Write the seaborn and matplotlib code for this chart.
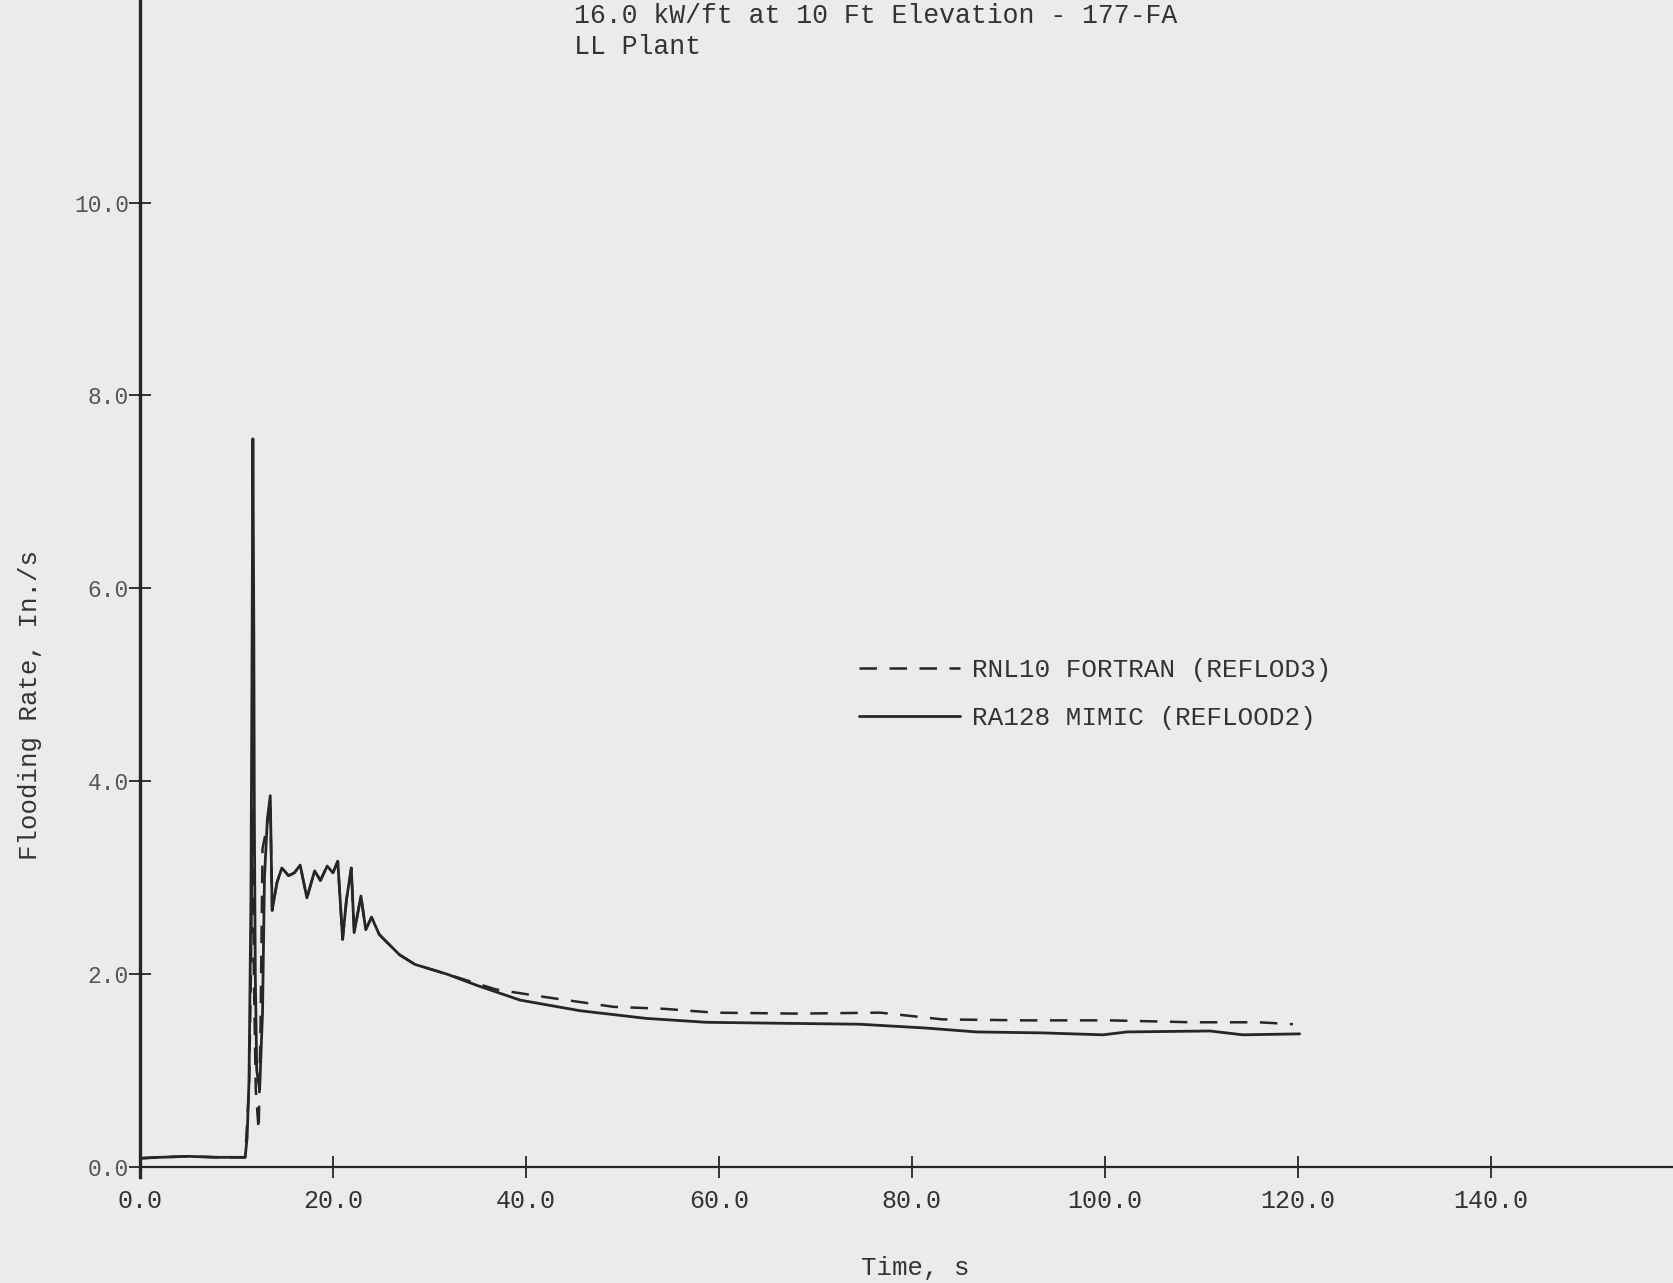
import matplotlib
matplotlib.use("Agg")
import matplotlib.pyplot as plt
import seaborn as sns

# ---- data ----
time_solid = [0.0, 2.0, 5.0, 8.0, 10.9, 11.1, 11.3, 11.5, 11.6, 11.7, 11.8, 11.85, 11.95,
              12.1, 12.4, 12.7, 12.9, 13.2, 13.5, 13.7, 14.2, 14.7, 15.4, 16.0, 16.6, 17.3,
              18.1, 18.7, 19.4, 20.0, 20.5, 21.0, 21.4, 21.9, 22.2, 22.9, 23.4, 24.0, 24.8,
              26.9, 28.5, 31.8, 35.0, 39.4, 45.6, 52.5, 58.7, 66.3, 74.6, 81.5, 86.7, 93.6,
              99.8, 102.3, 110.9, 114.3, 120.2]
rate_solid = [0.09, 0.10, 0.11, 0.10, 0.10, 0.30, 0.90, 2.80, 5.00, 7.55, 5.50, 3.70, 2.00,
              1.00, 0.80, 1.60, 3.00, 3.60, 3.85, 2.66, 2.95, 3.10, 3.02, 3.05, 3.13, 2.79,
              3.07, 2.97, 3.12, 3.05, 3.17, 2.36, 2.77, 3.10, 2.43, 2.81, 2.46, 2.59, 2.41,
              2.20, 2.10, 2.00, 1.88, 1.73, 1.62, 1.54, 1.50, 1.49, 1.48, 1.44, 1.40, 1.39,
              1.37, 1.40, 1.41, 1.37, 1.38]

time_dashed = [0.0, 2.0, 5.0, 8.0, 10.9, 11.3, 11.5, 11.65, 11.8, 12.0, 12.3, 12.5, 12.7,
               13.1, 13.5, 13.7, 14.2, 14.7, 15.4, 16.0, 16.6, 17.3, 18.1, 18.7, 19.4, 20.0,
               20.5, 21.0, 21.4, 21.9, 22.2, 22.9, 23.4, 24.0, 24.8, 26.9, 28.5, 31.8, 36.9,
               42.1, 49.1, 54.3, 59.5, 68.2, 76.7, 83.2, 91.9, 100.5, 109.1, 116.0, 119.5]
rate_dashed = [0.09, 0.10, 0.11, 0.10, 0.10, 0.80, 2.00, 3.70, 2.00, 0.80, 0.38, 1.50, 3.30,
               3.50, 3.80, 2.66, 2.95, 3.10, 3.02, 3.05, 3.13, 2.79, 3.07, 2.97, 3.12, 3.05,
               3.17, 2.36, 2.77, 3.10, 2.43, 2.81, 2.46, 2.59, 2.41, 2.20, 2.10, 2.00, 1.84,
               1.76, 1.66, 1.64, 1.60, 1.59, 1.60, 1.53, 1.52, 1.52, 1.50, 1.50, 1.48]

label_dashed = "RNL10 FORTRAN (REFLOD3)"
label_solid = "RA128 MIMIC (REFLOOD2)"
x_ticks = [0, 20, 40, 60, 80, 100, 120, 140]
y_ticks = [0, 2, 4, 6, 8, 10]
title_1 = "16.0 kW/ft at 10 Ft Elevation - 177-FA"
title_2 = "LL Plant"
x_label = "Time, s"
y_label = "Flooding Rate, In./s"

# ---- style ----
bg = "#ebebe9"
ink = "#262626"
W, H = 1674, 1283

sns.set_theme(style="white")
plt.rcParams["font.family"] = ["Liberation Mono", "DejaVu Sans Mono"]

fig = plt.figure(figsize=(W / 100, H / 100), dpi=100, facecolor=bg)
ax = fig.add_axes([140 / W, 106.4 / H, 1 - 140 / W, 1 - 106.4 / H])
ax.set_facecolor(bg)

sns.lineplot(x=time_dashed, y=rate_dashed, ax=ax, sort=False, estimator=None,
             color=ink, lw=1.8, label=label_dashed)
ax.lines[-1].set_dashes((7, 5))
sns.lineplot(x=time_solid, y=rate_solid, ax=ax, sort=False, estimator=None,
             color=ink, lw=2.0, label=label_solid)

ax.set_xlim(0, 159)
ax.set_ylim(-0.1, 12.1)
for s in ("top", "right"):
    ax.spines[s].set_visible(False)
ax.spines["bottom"].set_position(("data", 0))
ax.spines["left"].set_linewidth(2.4)
ax.spines["bottom"].set_linewidth(1.6)
ax.spines["left"].set_color(ink)
ax.spines["bottom"].set_color(ink)

ax.set_xticks(x_ticks)
ax.set_xticklabels([f"{v:.1f}" for v in x_ticks], fontsize=18, color="#333333")
ax.set_yticks(y_ticks)
ax.set_yticklabels([f"{v:.1f}" for v in y_ticks], fontsize=16.5, color="#555555")
ax.tick_params(axis="both", which="major", direction="inout", length=16, width=1.3,
               color=ink, left=True, bottom=True)
ax.tick_params(axis="x", pad=8)
ax.tick_params(axis="y", pad=0)
ax.set_xlabel("")
ax.set_ylabel("")

fig.text(30 / W, 1 - 705 / H, y_label, rotation=90, ha="center", va="center",
         fontsize=18.5, color="#333333")
fig.text(915 / W, 1 - 1268 / H, x_label, ha="center", va="center",
         fontsize=18.5, color="#333333")
fig.text(574 / W, 1 - 16 / H, title_1, ha="left", va="center", fontsize=19.1, color="#333333")
fig.text(574 / W, 1 - 47 / H, title_2, ha="left", va="center", fontsize=19.1, color="#333333")

handles, labels = ax.get_legend_handles_labels()
ax.legend(handles, labels, loc="center left", bbox_to_anchor=(859 / W, 1 - 694 / H),
          bbox_transform=fig.transFigure, frameon=False, fontsize=18.7,
          handlelength=3.9, handletextpad=0.45, labelspacing=0.9,
          borderpad=0, borderaxespad=0, labelcolor="#333333")

fig.savefig("out.png", dpi=100, facecolor=bg)
